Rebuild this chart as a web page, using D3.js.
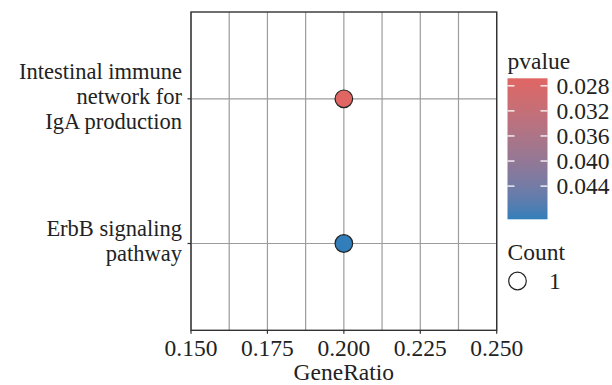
<!DOCTYPE html>
<html>
<head>
<meta charset="utf-8">
<script src="https://cdn.jsdelivr.net/npm/d3@7"></script>
<style>
  body { margin: 0; background: #fff; }
  text { font-family: "Liberation Serif", "DejaVu Serif", serif; fill: #222; }
</style>
</head>
<body>
<div id="chart"></div>
<script>
// data
const categories = ["ErbB signaling pathway", "Intestinal immune network for IgA production"];
const categoryLines = [["ErbB signaling", "pathway"], ["Intestinal immune", "network for", "IgA production"]];
const geneRatio = [0.2, 0.2];
const pvalues = [0.0493, 0.0268];
const counts = [1, 1];
const xTicks = [0.150, 0.175, 0.200, 0.225, 0.250];
const pTicks = [0.028, 0.032, 0.036, 0.040, 0.044];

const svgWidth = 612, svgHeight = 385;
const margin = { top: 12, left: 191 };
const panelRight = 496.7, panelBottom = 330.3;
const fontSize = 23.5;

const svg = d3.select('#chart').append('svg')
    .attr('width', svgWidth)
    .attr('height', svgHeight);

const x = d3.scaleLinear()
    .domain([0.15, 0.25])
    .range([margin.left, panelRight]);
const y = d3.scalePoint()
    .domain(categories)
    .range([panelBottom, margin.top])
    .padding(0.6);

const pExtent = d3.extent(pvalues);
const color = d3.scaleLinear()
    .domain(pExtent)
    .range(['#e06663', '#327eba'])
    .interpolate(d3.interpolateLab);

// grid lines (major + minor)
const gridX = [];
for (let i = 0; i < xTicks.length; i++) {
    gridX.push(xTicks[i]);
    if (i < xTicks.length - 1) gridX.push((xTicks[i] + xTicks[i + 1]) / 2);
}
svg.append('g').selectAll('line')
    .data(gridX)
    .enter().append('line')
    .attr('x1', d => x(d)).attr('x2', d => x(d))
    .attr('y1', margin.top).attr('y2', panelBottom)
    .attr('stroke', '#9c9c9c').attr('stroke-width', 1.2);
svg.append('g').selectAll('line')
    .data(categories)
    .enter().append('line')
    .attr('x1', margin.left).attr('x2', panelRight)
    .attr('y1', d => y(d)).attr('y2', d => y(d))
    .attr('stroke', '#9c9c9c').attr('stroke-width', 1.2);

// panel frame
svg.append('rect')
    .attr('x', margin.left).attr('y', margin.top)
    .attr('width', panelRight - margin.left)
    .attr('height', panelBottom - margin.top)
    .attr('fill', 'none')
    .attr('stroke', '#333').attr('stroke-width', 1.4);

// x axis ticks and labels
const gX = svg.append('g');
gX.selectAll('line')
    .data(xTicks)
    .enter().append('line')
    .attr('x1', d => x(d)).attr('x2', d => x(d))
    .attr('y1', panelBottom).attr('y2', panelBottom + 3.5)
    .attr('stroke', '#333').attr('stroke-width', 1.2);
gX.selectAll('text')
    .data(xTicks)
    .enter().append('text')
    .attr('x', d => x(d))
    .attr('y', 356)
    .attr('text-anchor', 'middle')
    .attr('font-size', fontSize)
    .text(d => d3.format('.3f')(d));
svg.append('text')
    .attr('x', (margin.left + panelRight) / 2)
    .attr('y', 380)
    .attr('text-anchor', 'middle')
    .attr('font-size', fontSize)
    .text('GeneRatio');

// y axis ticks and labels
const gY = svg.append('g');
gY.selectAll('line')
    .data(categories)
    .enter().append('line')
    .attr('x1', margin.left - 3.5).attr('x2', margin.left)
    .attr('y1', d => y(d)).attr('y2', d => y(d))
    .attr('stroke', '#333').attr('stroke-width', 1.2);
const labelSize = 22.5, lineGap = 25;
categories.forEach((c, i) => {
    const lines = categoryLines[i];
    const t = gY.append('text')
        .attr('text-anchor', 'end')
        .attr('font-size', labelSize);
    lines.forEach((l, j) => {
        t.append('tspan')
            .attr('x', 182)
            .attr('y', y(c) + 5.5 + (j - (lines.length - 1) / 2) * lineGap)
            .text(l);
    });
});

// points
svg.append('g').selectAll('circle')
    .data(categories)
    .enter().append('circle')
    .attr('cx', (d, i) => x(geneRatio[i]))
    .attr('cy', d => y(d))
    .attr('r', 8.8)
    .attr('fill', (d, i) => color(pvalues[i]))
    .attr('stroke', '#222').attr('stroke-width', 1.2);

// colour legend
const barX = 507.5, barW = 40, barTop = 78.3, barBottom = 219.3;
const pScale = d3.scaleLinear().domain(pExtent).range([barTop, barBottom]);
const grad = svg.append('defs').append('linearGradient')
    .attr('id', 'pgrad')
    .attr('x1', 0).attr('x2', 0).attr('y1', 0).attr('y2', 1);
d3.range(0, 1.0001, 0.1).forEach(t => {
    grad.append('stop')
        .attr('offset', t)
        .attr('stop-color', color(pExtent[0] + t * (pExtent[1] - pExtent[0])));
});
svg.append('text')
    .attr('x', barX).attr('y', 69)
    .attr('font-size', fontSize)
    .text('pvalue');
svg.append('rect')
    .attr('x', barX).attr('y', barTop)
    .attr('width', barW).attr('height', barBottom - barTop)
    .attr('fill', 'url(#pgrad)');
const gLeg = svg.append('g');
pTicks.forEach(p => {
    const yy = pScale(p);
    gLeg.append('line')
        .attr('x1', barX).attr('x2', barX + 7)
        .attr('y1', yy).attr('y2', yy)
        .attr('stroke', '#fff').attr('stroke-width', 1.3);
    gLeg.append('line')
        .attr('x1', barX + barW - 7).attr('x2', barX + barW)
        .attr('y1', yy).attr('y2', yy)
        .attr('stroke', '#fff').attr('stroke-width', 1.3);
    gLeg.append('text')
        .attr('x', 556.5).attr('y', yy + 8)
        .attr('font-size', fontSize)
        .text(d3.format('.3f')(p));
});

// size legend
svg.append('text')
    .attr('x', barX).attr('y', 260)
    .attr('font-size', fontSize)
    .text('Count');
const sizeVals = Array.from(new Set(counts));
sizeVals.forEach((v, i) => {
    const cy = 281 + i * 25;
    svg.append('circle')
        .attr('cx', 517.5).attr('cy', cy).attr('r', 8.8)
        .attr('fill', 'none')
        .attr('stroke', '#222').attr('stroke-width', 1.2);
    svg.append('text')
        .attr('x', 549).attr('y', cy + 8)
        .attr('font-size', fontSize)
        .text(v);
});
</script>
</body>
</html>
